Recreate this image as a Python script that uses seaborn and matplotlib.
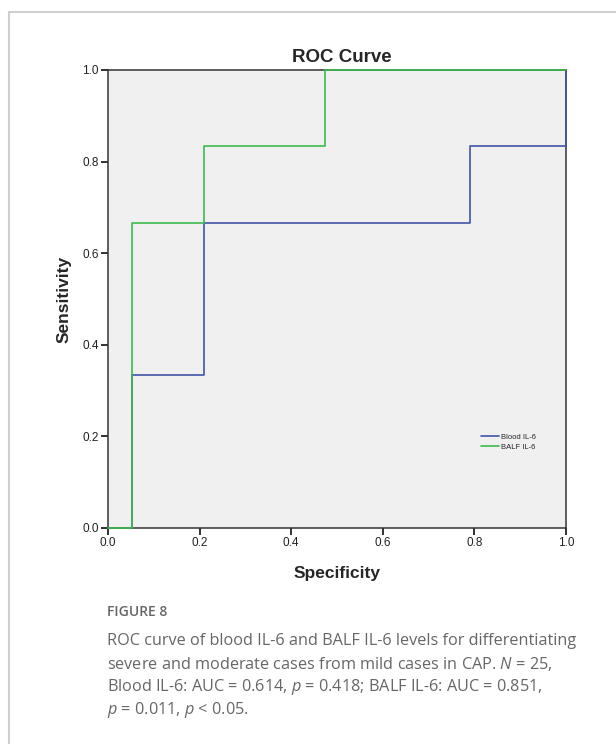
import matplotlib
matplotlib.use("Agg")
import matplotlib.pyplot as plt
import seaborn as sns
import pandas as pd
from matplotlib.lines import Line2D

# ---- data (ROC step vertices) ----
blood_spec = [0.0, 0.0526, 0.2105, 0.7895, 1.0]
blood_sens = [0.0, 0.333, 0.667, 0.833, 1.0]
balf_spec = [0.0, 0.0526, 0.2105, 0.4737, 1.0]
balf_sens = [0.0, 0.667, 0.833, 1.0, 1.0]
series_names = ["Blood IL-6", "BALF IL-6"]
ticks = [0.0, 0.2, 0.4, 0.6, 0.8, 1.0]
tick_labels = ["0.0", "0.2", "0.4", "0.6", "0.8", "1.0"]

df = pd.concat([
    pd.DataFrame({"Specificity": blood_spec, "Sensitivity": blood_sens, "series": series_names[0]}),
    pd.DataFrame({"Specificity": balf_spec, "Sensitivity": balf_sens, "series": series_names[1]}),
], ignore_index=True)

sns.set_style("white")
plt.rcParams["font.family"] = ["Liberation Sans", "DejaVu Sans"]
plt.rcParams["mathtext.fontset"] = "custom"
plt.rcParams["mathtext.rm"] = "Open Sans"
plt.rcParams["mathtext.it"] = "Open Sans:italic"

W, H = 616, 744
fig = plt.figure(figsize=(W / 100, H / 100), dpi=100)
fig.patch.set_facecolor("white")

# outer frame lines
fig.add_artist(Line2D([9 / W, 1.0], [1 - 12 / H, 1 - 12 / H], color="#cfcfcf", lw=1.5, transform=fig.transFigure))
fig.add_artist(Line2D([9 / W, 9 / W], [0.0, 1 - 12 / H], color="#cfcfcf", lw=1.5, transform=fig.transFigure))

ax = fig.add_axes([108 / W, 1 - 528 / H, 458 / W, 458 / H])
ax.set_facecolor("#f0f0f0")

palette = {series_names[0]: "#3f55a8", series_names[1]: "#3dbb4a"}
sns.lineplot(data=df, x="Specificity", y="Sensitivity", hue="series", palette=palette,
             estimator=None, sort=False, drawstyle="steps-post", lw=1.2, ax=ax,
             legend=False, zorder=3, clip_on=False)

ax.set_xlim(0, 1)
ax.set_ylim(0, 1)
ax.set_xticks(ticks)
ax.set_xticklabels(tick_labels)
ax.set_yticks(ticks)
ax.set_yticklabels(tick_labels)
ax.tick_params(axis="both", direction="out", length=5, width=1.3, color="#222222",
               labelsize=8.5, labelcolor="#222222", pad=1.5, bottom=True, left=True)
for s in ax.spines.values():
    s.set_visible(True)
    s.set_color("#333333")
    s.set_linewidth(1.1)

ax.set_xlabel("Specificity", fontsize=12.5, fontweight="bold", labelpad=12)
ax.set_ylabel("Sensitivity", fontsize=12.5, fontweight="bold", labelpad=8)
ax.set_title("ROC Curve", fontsize=13.5, fontweight="bold", pad=6, x=0.511)

handles = [Line2D([0], [0], color=palette[n], lw=1.2) for n in series_names]
ax.legend(handles, series_names, loc="upper left", bbox_to_anchor=(0.805, 0.215),
          frameon=False, fontsize=5.5, handlelength=2.4, handletextpad=0.3,
          labelspacing=0.35, borderpad=0)

# caption
cap_color = "#666666"
cf = "Open Sans"
fig.text(107 / W, 1 - 612 / H, "FIGURE 8", fontsize=10, color=cap_color, family=cf,
         fontweight="semibold", va="center", ha="left")
lines = [
    "ROC curve of blood IL-6 and BALF IL-6 levels for differentiating",
    "severe and moderate cases from mild cases in CAP. $\\it{N}$ = 25,",
    "Blood IL-6: AUC = 0.614, $\\it{p}$ = 0.418; BALF IL-6: AUC = 0.851,",
    "$\\it{p}$ = 0.011, $\\it{p}$ < 0.05.",
]
for i, t in enumerate(lines):
    fig.text(107 / W, 1 - (641 + 23 * i) / H, t, fontsize=11.7, color=cap_color, family=cf,
             va="center", ha="left")

fig.savefig("out.png", dpi=100)
